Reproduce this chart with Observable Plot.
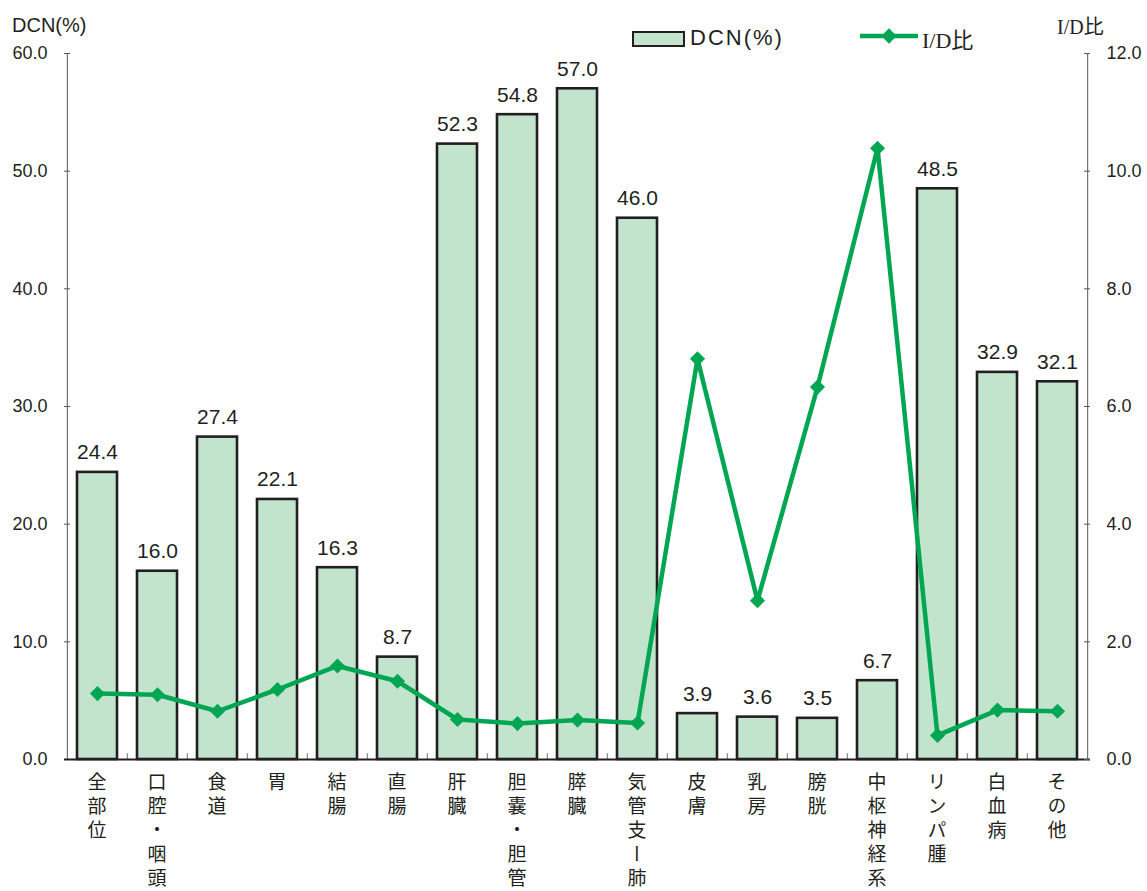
<!DOCTYPE html>
<html lang="ja">
<head>
<meta charset="utf-8">
<script src="https://cdn.jsdelivr.net/npm/d3@7"></script>
<script src="https://cdn.jsdelivr.net/npm/@observablehq/plot@0.6"></script>
<style>
  html, body { margin: 0; padding: 0; background: #fff; }
  #chart { position: relative; width: 1147px; height: 891px; font-family: "Liberation Sans", Arial, "Noto Sans CJK JP", sans-serif; color: #231f20; }
  #chart svg { position: absolute; left: 0; top: 0; overflow: visible; }
  .lbl { position: absolute; white-space: nowrap; line-height: 1; color: #231f20; }
  .swatch-bar { position: absolute; box-sizing: border-box; background: #c2e4cd; border: 2px solid #231f20; }
  .site { position: absolute; top: 772px; transform: translateX(-50%); writing-mode: vertical-rl; text-orientation: upright;
          font-family: "Noto Sans CJK JP", sans-serif; font-size: 19px; line-height: 1; letter-spacing: 5px; color: #231f20; white-space: nowrap; }
</style>
</head>
<body>
<div id="chart">
  <div class="lbl" style="left:12px; top:15px; font-size:20px;">DCN(%)</div>
  <div class="lbl" style="left:1057px; top:16px; font-size:20px; font-family:'Liberation Serif','Noto Sans CJK JP',serif;">I/D<span style="font-family:'Noto Sans CJK JP'">比</span></div>
  <div class="swatch-bar" style="left:632px; top:31px; width:53px; height:16px;"></div>
  <div class="lbl" style="left:690px; top:27px; font-size:22px; letter-spacing:2px;">DCN(%)</div>
  <svg id="lineSwatch" width="60" height="18" style="left:860px; top:27px;"></svg>
  <div class="lbl" style="left:922px; top:27px; font-size:22px; font-family:'Liberation Serif','Noto Sans CJK JP',serif;">I/D<span style="font-family:'Noto Sans CJK JP'">比</span></div>
</div>
<script>
// Sites (categories), DCN share (%) and incidence/death ratio per site
const sites = ["全部位", "口腔・咽頭", "食道", "胃", "結腸", "直腸", "肝臓", "胆嚢・胆管", "膵臓", "気管支ー肺",
               "皮膚", "乳房", "膀胱", "中枢神経系", "リンパ腫", "白血病", "その他"];
const dcnValues = [24.4, 16.0, 27.4, 22.1, 16.3, 8.7, 52.3, 54.8, 57.0, 46.0, 3.9, 3.6, 3.5, 6.7, 48.5, 32.9, 32.1];
const idRatio = [1.12, 1.10, 0.82, 1.19, 1.59, 1.33, 0.68, 0.61, 0.67, 0.62, 6.81, 2.70, 6.33, 10.39, 0.41, 0.84, 0.82];
const dcnTicks = [0, 10, 20, 30, 40, 50, 60];
const idTicks = [0, 2, 4, 6, 8, 10, 12];

const rows = sites.map((site, i) => ({site, dcn: dcnValues[i], id: idRatio[i]}));

const W = 1147, H = 891;
const mL = 64, mR = 57, mT = 53, mB = 132;
const plotW = W - mL - mR;
const step = plotW / sites.length;

const barFill = "#c2e4cd";
const ink = "#231f20";
const axisGray = "#595757";
const green = "#00a651";

const xScale = {domain: sites, paddingInner: 0.34, paddingOuter: 0.17, axis: null};
const baseStyle = {fontFamily: "'Liberation Sans', Arial, sans-serif", fontSize: "18px", color: ink, background: "transparent", overflow: "visible"};

// Bars on the left (DCN %) axis
const barsPlot = Plot.plot({
  width: W, height: H,
  marginLeft: mL, marginRight: mR, marginTop: mT, marginBottom: mB,
  style: baseStyle,
  x: xScale,
  y: {domain: [0, 60]},
  marks: [
    Plot.axisY({ticks: dcnTicks, tickFormat: d => d.toFixed(1), tickSize: 0, tickPadding: 17, fontSize: 18, label: null}),
    Plot.ruleY(dcnTicks, {insetRight: plotW - 6, stroke: axisGray}),
    Plot.ruleX([sites[0]], {dx: -step / 2, y1: 0, y2: 60, stroke: axisGray}),
    Plot.barY(rows, {x: "site", y: "dcn", fill: barFill, stroke: ink, strokeWidth: 2.6}),
    Plot.text(rows, {x: "site", y: "dcn", text: d => d.dcn.toFixed(1), lineAnchor: "bottom", dy: -13,
      fontSize: 21, fill: ink, ariaLabel: "value-label"}),
    Plot.ruleX(sites.slice(1), {dx: -step / 2, y1: 0, y2: 0.5, stroke: "#777"}),
    Plot.ruleY([0], {stroke: ink, strokeWidth: 2})
  ]
});

// Line on the right (I/D ratio) axis
const linePlot = Plot.plot({
  width: W, height: H,
  marginLeft: mL, marginRight: mR, marginTop: mT, marginBottom: mB,
  style: baseStyle,
  x: xScale,
  y: {domain: [0, 12]},
  marks: [
    Plot.axisY({anchor: "right", ticks: idTicks, tickFormat: d => d.toFixed(1), tickSize: 0, tickPadding: 16, fontSize: 18, label: null}),
    Plot.ruleY(idTicks, {insetLeft: plotW - 6, stroke: axisGray}),
    Plot.ruleX([sites[sites.length - 1]], {dx: step / 2, y1: 0, y2: 12, stroke: axisGray}),
    Plot.line(rows, {x: "site", y: "id", stroke: green, strokeWidth: 4.5, strokeLinejoin: "round"}),
    Plot.dot(rows, {x: "site", y: "id", symbol: "diamond2", r: 6.8, fill: green, stroke: "none"})
  ]
});

const chart = document.getElementById("chart");
chart.appendChild(barsPlot);
chart.appendChild(linePlot);

// Condensed look for the value labels above the bars
barsPlot.querySelectorAll('g[aria-label="value-label"] text').forEach(t => {
  t.setAttribute("transform", (t.getAttribute("transform") || "") + " scale(0.86,1)");
});

// Vertical (top-to-bottom) site names under the axis, placed with the x scale
const x = barsPlot.scale("x");
sites.forEach(site => {
  const div = document.createElement("div");
  div.className = "site";
  div.textContent = site;
  div.style.left = `${x.apply(site) + x.bandwidth / 2}px`;
  chart.appendChild(div);
});

// Legend swatch for the line series
const sw = d3.select("#lineSwatch");
sw.append("line").attr("x1", 0).attr("x2", 58).attr("y1", 9).attr("y2", 9)
  .attr("stroke", green).attr("stroke-width", 4.5);
sw.append("path").attr("d", d3.symbol(d3.symbolDiamond2, 150)()).attr("transform", "translate(29,9)").attr("fill", green);
</script>
</body>
</html>
